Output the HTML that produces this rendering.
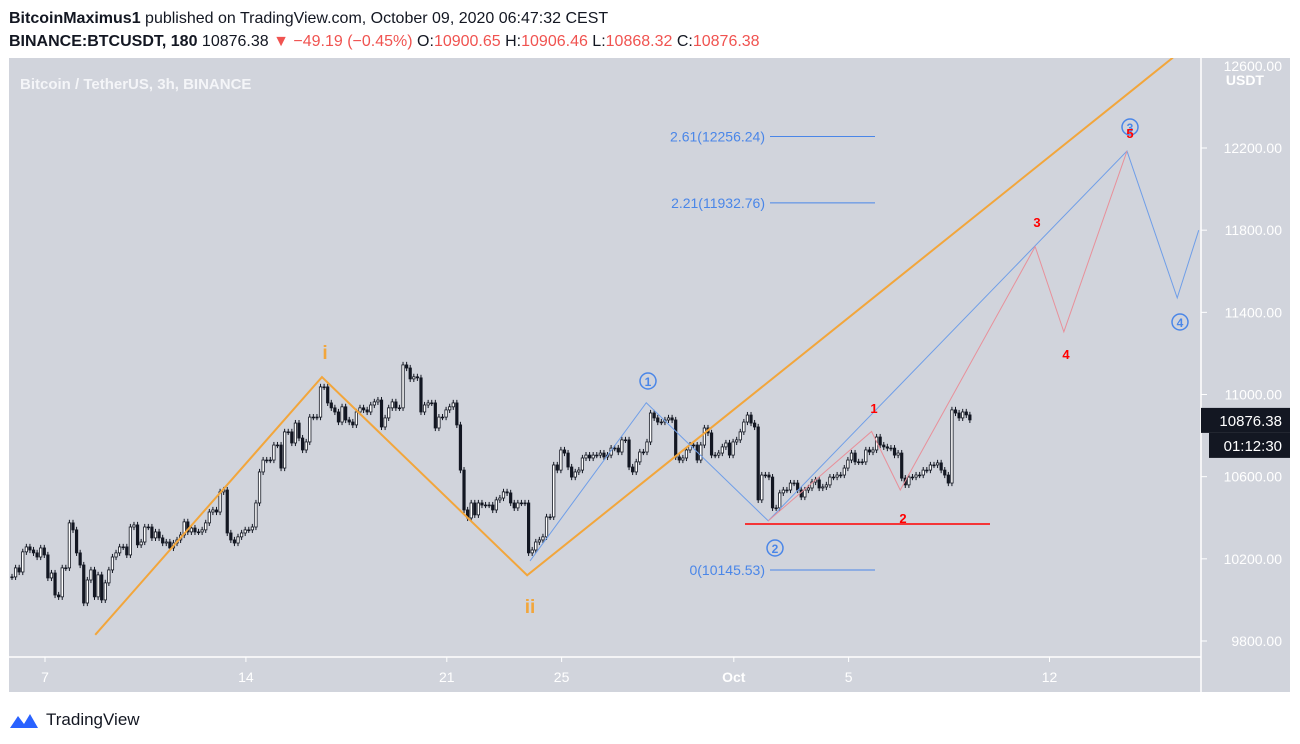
<!DOCTYPE html>
<html><head><meta charset="utf-8"><style>
body{margin:0;background:#fff;width:1300px;height:744px;overflow:hidden;font-family:"Liberation Sans",sans-serif}
svg{position:absolute;left:0;top:0}
</style></head><body>
<svg id="c" width="1300" height="744" font-family="Liberation Sans, sans-serif">
<text x="9" y="23" font-size="16" fill="#131722"><tspan font-weight="bold">BitcoinMaximus1</tspan> published on TradingView.com, October 09, 2020 06:47:32 CEST</text>
<text x="9" y="46" font-size="16" fill="#131722"><tspan font-weight="bold">BINANCE:BTCUSDT, 180</tspan>  10876.38 <tspan fill="#f05350">▼</tspan> <tspan fill="#f05350">−49.19 (−0.45%)</tspan> O:<tspan fill="#f05350">10900.65</tspan> H:<tspan fill="#f05350">10906.46</tspan> L:<tspan fill="#f05350">10868.32</tspan> C:<tspan fill="#f05350">10876.38</tspan></text>
<rect x="9" y="58" width="1281" height="634" fill="#d1d4dc"/>
<line x1="1201" y1="58" x2="1201" y2="692" stroke="#fff" stroke-width="1.5"/>
<line x1="9" y1="657" x2="1201" y2="657" stroke="#fff" stroke-width="1.5"/>
<text x="20" y="89" font-size="15" font-weight="bold" fill="#f4f5f8">Bitcoin / TetherUS, 3h, BINANCE</text>
<g id="candles"></g>
<g id="overlay"></g>
<g id="axes"></g>
<g>
<path d="M10 728 L18 716 L24 724 L30 714 L38 728 Z" fill="#2962ff"/>
<text x="46" y="725" font-size="17" fill="#131722">TradingView</text>
</g>
</svg>
<script>
const closes=[10112,10156,10136,10234,10258,10243,10229,10209,10253,10219,10107,10131,10024,10015,10156,10156,10375,10341,10229,10170,9985,10097,10146,10015,10122,10000,10083,10146,10209,10229,10258,10258,10219,10355,10365,10268,10282,10355,10355,10302,10331,10302,10277,10282,10253,10277,10292,10316,10380,10331,10350,10331,10331,10341,10375,10428,10438,10428,10526,10535,10326,10292,10277,10307,10326,10341,10341,10355,10472,10623,10681,10681,10681,10754,10754,10642,10818,10818,10764,10861,10788,10730,10769,10890,10890,10890,11037,11037,10959,10935,10915,10866,
10940,10876,10866,10852,10915,10935,10925,10915,10949,10964,10973,10842,10886,10935,10964,10935,10935,11144,11129,11076,11086,11081,10915,10949,10959,10959,10837,10890,10890,10925,10940,10959,10852,10632,10438,10399,10472,10414,10472,10462,10462,10462,10438,10487,10496,10526,10521,10472,10448,10472,10472,10472,10229,10243,10282,10292,10307,10404,10404,10657,10632,10730,10715,10647,10598,10623,10632,10691,10705,10691,10705,10705,10715,10696,10705,10739,10739,10720,10779,10779,10647,10623,10672,10720,10720,10769,10910,10886,10866,10866,10876,10886,
10876,10696,10681,10691,10730,10754,10754,10681,10754,10837,10813,10705,10705,10715,10745,10764,10705,10769,10779,10818,10866,10900,10861,10842,10487,10608,10608,10598,10448,10448,10521,10535,10535,10569,10569,10535,10501,10535,10545,10574,10584,10545,10550,10560,10598,10598,10608,10608,10642,10681,10715,10672,10672,10672,10730,10720,10730,10793,10754,10745,10739,10739,10705,10715,10593,10560,10598,10598,10608,10608,10632,10632,10657,10657,10667,10632,10608,10569,10925,10910,10886,10915,10900.65,10876.38];
const priceTicks=[12200,11800,11400,11000,10600,10200,9800];
const timeLabels=["7","14","21","25","Oct","5","12"];
const timeDays=[0,7,14,18,24,28,35];
const orangeWave=[[1.75,9830],[9.65,11085],[16.8,10120],[39.3,12640]];
const blueWave=[[16.9,10190],[20.95,10960],[25.2,10385],[37.7,12185],[39.45,11470],[40.2,11800]];
const redWave=[[25.2,10385],[28.8,10820],[29.8,10535],[34.5,11720],[35.5,11305],[37.7,12185]];
const fibLevels=[12256.24,11932.76,10145.53];const fibNames=["2.61","2.21","0"];
const ns="http://www.w3.org/2000/svg";
const y=p=>148+(12200-p)*0.20542;
const xd=d=>45+d*28.7;
const xi=i=>12+i*3.5875;
function mk(t,a,par){const e=document.createElementNS(ns,t);for(const k in a)e.setAttribute(k,a[k]);par.appendChild(e);return e;}
const cg=document.getElementById('candles');
const W=15;
closes.forEach((c,i)=>{const o=i?closes[i-1]:c;const hi=Math.max(o,c)+W,lo=Math.min(o,c)-W;const x=xi(i);
const g=mk('g',{},cg);


mk('line',{x1:x,x2:x,y1:y(hi),y2:y(lo),stroke:'#131722','stroke-width':1},g);
const up=c>=o;const t=y(Math.max(o,c)),b=y(Math.min(o,c));
mk('rect',{x:x-1.2,y:t,width:2.4,height:Math.max(b-t,0.8),fill:up?'#fff':'#131722',stroke:'#131722','stroke-width':0.8},g);});
const og=document.getElementById('overlay');
function poly(pts,col,w,name){const e=mk('polyline',{points:pts.map(p=>xd(p[0])+','+y(p[1])).join(' '),fill:'none',stroke:col,'stroke-width':w},og);

}
const clip=mk('clipPath',{id:'cp'},og);mk('rect',{x:9,y:58,width:1192,height:599},clip);
og.setAttribute('clip-path','url(#cp)');
poly(orangeWave,'#f2a63c',2,'orange-wave-line');
poly(blueWave,'#6f9ee8',1,'blue-wave-line');
poly(redWave,'#e8909a',1,'red-wave-line');
const rl=mk('line',{x1:745,x2:990,y1:524,y2:524,stroke:'#ff0000','stroke-width':1.5},og);


fibLevels.forEach((p,i)=>{const l=mk('line',{x1:770,x2:875,y1:y(p),y2:y(p),stroke:'#4a86e8','stroke-width':1},og);


const t=mk('text',{x:765,y:y(p)+5,'text-anchor':'end','font-size':14,fill:'#4a86e8'},og);t.textContent=fibNames[i]+'('+p.toFixed(2)+')';

});
function lbl(x,yy,s,col,size,name){const t=mk('text',{x:x,y:yy,'text-anchor':'middle','font-size':size,fill:col,'font-weight':'bold'},og);t.textContent=s;

}
lbl(325,359,'i','#f2a63c',19,'wave-i-label');lbl(530,613,'ii','#f2a63c',19,'wave-ii-label');
[[648,381,'1'],[775,548,'2'],[1130,127,'3'],[1180,322,'4']].forEach(a=>{const c=mk('circle',{cx:a[0],cy:a[1],r:8,fill:'none',stroke:'#4a86e8','stroke-width':1.5},og);


lbl(a[0],a[1]+5,a[2],'#4a86e8',12,'wave-circle-label');});
[[874,413,'1'],[903,523,'2'],[1037,227,'3'],[1066,359,'4'],[1130,138,'5']].forEach(a=>lbl(a[0],a[1],a[2],'#ff0000',13,'subwave-label'));
const ag=document.getElementById('axes');
priceTicks.forEach(p=>{mk('line',{x1:1201,x2:1207,y1:y(p),y2:y(p),stroke:'#fff'},ag);
const t=mk('text',{x:1282,y:y(p)+5,'text-anchor':'end','font-size':14,fill:'#fff'},ag);t.textContent=p.toFixed(2);

});
const tt=mk('text',{x:1282,y:71,'text-anchor':'end','font-size':14,fill:'#fff'},ag);tt.textContent='12600.00';


const u=mk('text',{x:1264,y:85,'text-anchor':'end','font-size':14,fill:'#fff','font-weight':'bold'},ag);u.textContent='USDT';


const last=closes[closes.length-1];
mk('rect',{x:1201,y:y(last)-12,width:89,height:25,fill:'#131722'},ag);
const lt=mk('text',{x:1282,y:y(last)+6,'text-anchor':'end','font-size':15,fill:'#fff'},ag);lt.textContent=last.toFixed(2);


mk('rect',{x:1209,y:y(last)+13,width:81,height:25,fill:'#131722'},ag);
const ct=mk('text',{x:1282,y:y(last)+31,'text-anchor':'end','font-size':15,fill:'#fff'},ag);ct.textContent='01:12:30';


timeLabels.forEach((s,i)=>{const x=xd(timeDays[i]);mk('line',{x1:x,x2:x,y1:657,y2:662,stroke:'#fff'},ag);
const t=mk('text',{x:x,y:682,'text-anchor':'middle','font-size':14,fill:'#fff','font-weight':s==='Oct'?'bold':'normal'},ag);t.textContent=s;

});
</script>
</body></html>
